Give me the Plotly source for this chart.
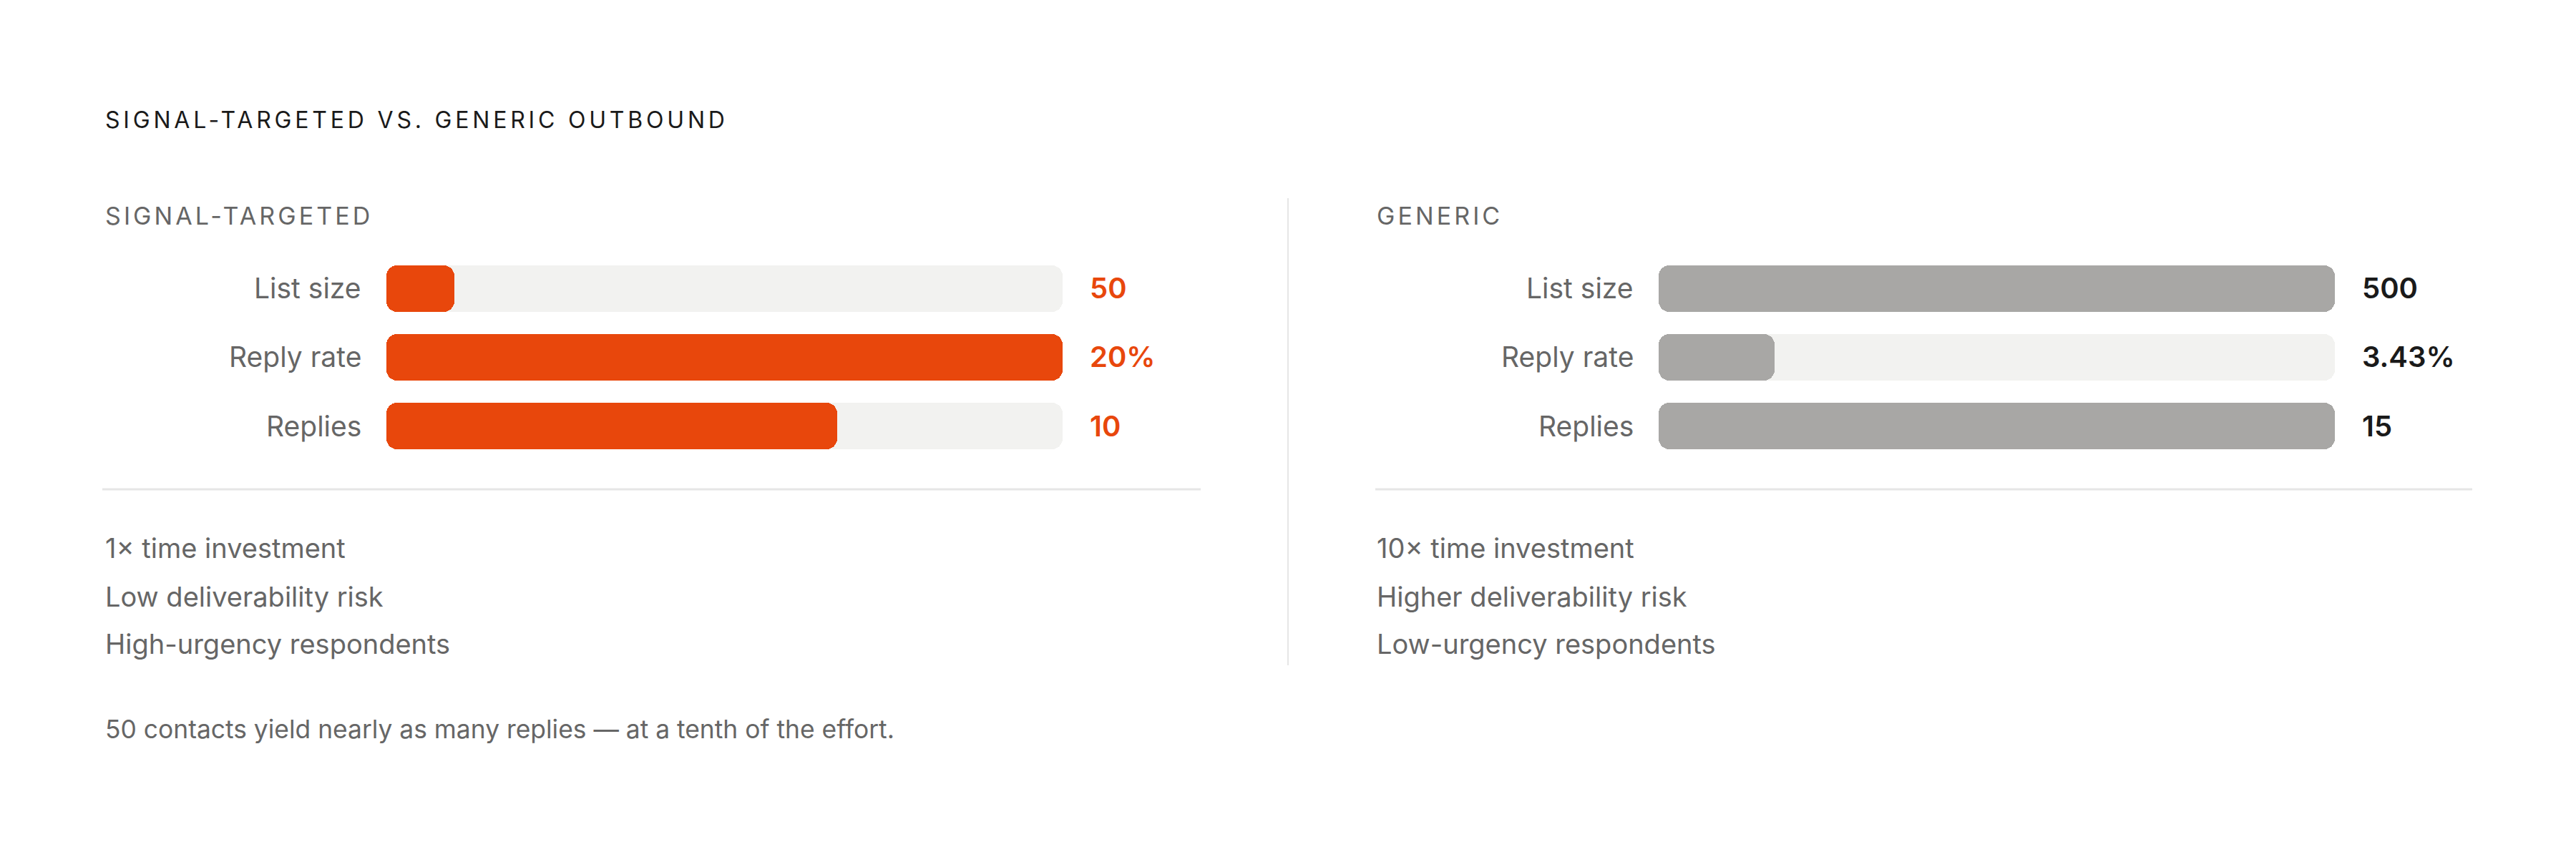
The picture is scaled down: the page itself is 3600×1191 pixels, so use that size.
import plotly.graph_objects as go

W, H = 3600, 1191

# ---------------- data ----------------
metrics = ["List size", "Reply rate", "Replies"]
targeted_vals = [50, 20, 10]
generic_vals = [500, 3.43, 15]
targeted_txt = ["50", "20%", "10"]
generic_txt = ["500", "3.43%", "15"]

title = "SIGNAL-TARGETED VS. GENERIC OUTBOUND"
panel_titles = ["SIGNAL-TARGETED", "GENERIC"]
targeted_notes = ["1× time investment", "Low deliverability risk", "High-urgency respondents"]
generic_notes = ["10× time investment", "Higher deliverability risk", "Low-urgency respondents"]
footer = "50 contacts yield nearly as many replies — at a tenth of the effort."

# ---------------- styling ----------------
FONT = "Inter"
ORANGE = "#E8470C"
GREY_BAR = "#A8A7A5"
TRACK = "#F2F2F0"
LABEL = "#666666"
DARK = "#1A1A1A"
RULE = "#E6E6E6"
RADIUS = 15


def px(x):
    return x / W


def py(y):
    return 1 - y / H


# per-metric scale: largest value of the two approaches
scale = [max(a, b) for a, b in zip(targeted_vals, generic_vals)]
targeted_frac = [v / s for v, s in zip(targeted_vals, scale)]
generic_frac = [v / s for v, s in zip(generic_vals, scale)]
track_frac = [s / s for s in scale]

BAR_W = 65 / 96

fig = go.Figure()

panels = [
    dict(xa="x", ya="y", frac=targeted_frac, color=ORANGE, txt=targeted_txt, vcol=ORANGE,
         dom=[px(540), px(1485)], left=145, notes=targeted_notes, title=panel_titles[0],
         rule=(143, 1678)),
    dict(xa="x2", ya="y2", frac=generic_frac, color=GREY_BAR, txt=generic_txt, vcol=DARK,
         dom=[px(2318), px(3263)], left=1922, notes=generic_notes, title=panel_titles[1],
         rule=(1922, 3455)),
]

annotations = []
shapes = []

for p in panels:
    for vals, col in ((track_frac, TRACK), (p["frac"], p["color"])):
        fig.add_trace(go.Bar(
            y=metrics, x=vals, orientation="h", xaxis=p["xa"], yaxis=p["ya"],
            marker=dict(color=col, cornerradius=RADIUS, line=dict(width=0, color=col)),
            width=BAR_W, hoverinfo="skip", showlegend=False,
        ))
    xdom = p["xa"] + " domain"
    for m, t in zip(metrics, p["txt"]):
        annotations.append(dict(
            xref=xdom, yref=p["ya"], x=0, y=m, xanchor="right", yanchor="middle",
            xshift=-33, text=m, showarrow=False,
            font=dict(family=FONT, size=39, color=LABEL),
        ))
        annotations.append(dict(
            xref=xdom, yref=p["ya"], x=1, y=m, xanchor="left", yanchor="middle",
            xshift=36, text=t, showarrow=False,
            font=dict(family=FONT, size=40, color=p["vcol"], weight=600),
        ))
    # panel title
    annotations.append(dict(
        xref="paper", yref="paper", x=px(p["left"]), y=py(301), xanchor="left", yanchor="middle",
        text=p["title"], showarrow=False, font=dict(family=FONT, size=34, color=LABEL),
    ))
    # notes
    for note, yc in zip(p["notes"], [766, 834, 900]):
        annotations.append(dict(
            xref="paper", yref="paper", x=px(p["left"]), y=py(yc), xanchor="left", yanchor="middle",
            text=note, showarrow=False, font=dict(family=FONT, size=38, color=LABEL),
        ))
    shapes.append(dict(
        type="line", xref="paper", yref="paper",
        x0=px(p["rule"][0]), x1=px(p["rule"][1]), y0=py(684), y1=py(684),
        line=dict(color=RULE, width=3),
    ))

# vertical separator
shapes.append(dict(
    type="line", xref="paper", yref="paper",
    x0=px(1800), x1=px(1800), y0=py(277), y1=py(930),
    line=dict(color=RULE, width=2),
))

# main title
annotations.append(dict(
    xref="paper", yref="paper", x=px(145), y=py(168), xanchor="left", yanchor="middle",
    text=title, showarrow=False, font=dict(family=FONT, size=32, color=DARK),
))
# footer
annotations.append(dict(
    xref="paper", yref="paper", x=px(145), y=py(1019), xanchor="left", yanchor="middle",
    text=footer, showarrow=False, font=dict(family=FONT, size=35.4, color=LABEL),
))

ydom = [py(643), py(355)]
axis_common = dict(visible=False, fixedrange=True)
fig.update_layout(
    width=W, height=H,
    margin=dict(l=0, r=0, t=0, b=0),
    paper_bgcolor="white", plot_bgcolor="white",
    barmode="overlay", bargap=0,
    xaxis=dict(domain=panels[0]["dom"], range=[0, 1], anchor="y", **axis_common),
    yaxis=dict(domain=ydom, type="category", categoryorder="array", categoryarray=metrics,
               range=[2.5, -0.5], anchor="x", **axis_common),
    xaxis2=dict(domain=panels[1]["dom"], range=[0, 1], anchor="y2", **axis_common),
    yaxis2=dict(domain=ydom, type="category", categoryorder="array", categoryarray=metrics,
                range=[2.5, -0.5], anchor="x2", **axis_common),
    annotations=annotations,
    shapes=shapes,
    showlegend=False,
)

post = """
document.body.style.margin = '0';
document.documentElement.style.overflow = 'hidden';
var gd = document.getElementById('{plot_id}');
// letter-spaced headings, keeping their left edge in place
var spacing = {'%s': '0.15em', '%s': '0.12em', '%s': '0.12em'};
gd.querySelectorAll('text.annotation-text').forEach(function(el){
  var s = spacing[el.textContent];
  if (s) {
    var b0 = el.getBBox();
    el.style.letterSpacing = s;
    var b1 = el.getBBox();
    var dx = b0.x - b1.x;
    var t = el.getAttribute('transform') || '';
    el.setAttribute('transform', t + ' translate(' + dx + ',0)');
  }
});
// round both ends of every bar (plotly only rounds the far end)
var R = %d;
gd.querySelectorAll('g.barlayer g.point path').forEach(function(p){
  var b = p.getBBox();
  if (!(b.width > 0 && b.height > 0)) return;
  var r = Math.min(R, b.width / 2, b.height / 2);
  var x0 = b.x, y0 = b.y, x1 = b.x + b.width, y1 = b.y + b.height;
  var a = 'A' + r + ',' + r + ' 0 0 1 ';
  var d = 'M' + (x0 + r) + ',' + y0 + 'H' + (x1 - r) + a + x1 + ',' + (y0 + r) +
          'V' + (y1 - r) + a + (x1 - r) + ',' + y1 + 'H' + (x0 + r) + a + x0 + ',' + (y1 - r) +
          'V' + (y0 + r) + a + (x0 + r) + ',' + y0 + 'Z';
  p.setAttribute('d', d);
  p.style.stroke = 'none';
  p.style.strokeWidth = '0';
});
""" % (title, panel_titles[0], panel_titles[1], RADIUS)

fig.write_html("out.html", post_script=post, config={"displayModeBar": False})
